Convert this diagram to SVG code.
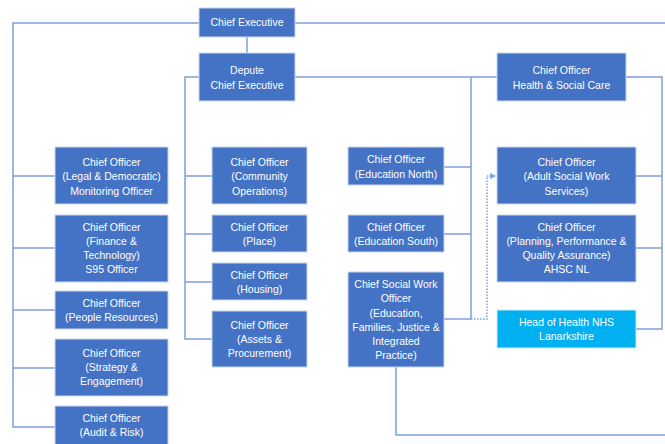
<svg xmlns="http://www.w3.org/2000/svg" width="665" height="444" viewBox="0 0 665 444">
<style>
.b{fill:#4472C4;stroke:#C9D6EE;stroke-width:1}
.c{fill:#00B0F0;stroke:#C9EEFB;stroke-width:1}
text{font-family:"Liberation Sans",Arial,sans-serif;font-size:10.5px;fill:#FFFFFF;text-anchor:middle}
.l{fill:none;stroke:#7F9FDB;stroke-width:1.5}
.d{fill:none;stroke:#7F9FDB;stroke-width:1.5;stroke-dasharray:1.5 1.5}
</style>
<defs>
<marker id="ah" markerWidth="6" markerHeight="6" refX="5" refY="3" orient="auto" markerUnits="userSpaceOnUse">
<path d="M0,0 L6,3 L0,6 Z" fill="#7F9FDB"/>
</marker>
</defs>
<rect width="665" height="444" fill="#FFFFFF"/>
<g id="connectors">
<path class="l" d="M199,23 H13 V427 H55"/>
<path class="l" d="M295,23 H665"/>
<path class="l" d="M13,176 H55 M13,248 H55 M13,310 H55 M13,368 H55"/>
<path class="l" d="M247,37 V53"/>
<path class="l" d="M199,77 H185 V339 H212 M185,176 H212 M185,234 H212 M185,282 H212"/>
<path class="l" d="M295,77 H497"/>
<path class="l" d="M471,77 V319 H444 M444,167 H471 M444,234 H471"/>
<path class="l" d="M626,77 H662 V329 H636 M636,176 H662 M636,248 H662"/>
<path class="l" d="M396,367 V435 H665"/>
<path class="d" d="M471,319 H487 V176 H495" marker-end="url(#ah)"/>
</g>
<g id="chief-executive"><rect class="b" x="199" y="8" width="96" height="29"/><text x="247" y="26">Chief Executive</text></g>
<g id="depute"><rect class="b" x="199" y="53" width="96" height="48"/><text x="247" y="74">Depute</text><text x="247" y="89">Chief Executive</text></g>
<g id="hsc"><rect class="b" x="497" y="53" width="129" height="48"/><text x="561.5" y="74">Chief Officer</text><text x="561.5" y="89">Health &amp; Social Care</text></g>
<g id="legal"><rect class="b" x="55" y="147" width="113" height="57"/><text x="111.5" y="166">Chief Officer</text><text x="111.5" y="180">(Legal &amp; Democratic)</text><text x="111.5" y="194.5">Monitoring Officer</text></g>
<g id="finance"><rect class="b" x="55" y="215" width="113" height="67"/><text x="111.5" y="231">Chief Officer</text><text x="111.5" y="245">(Finance &amp;</text><text x="111.5" y="259">Technology)</text><text x="111.5" y="273">S95 Officer</text></g>
<g id="people"><rect class="b" x="55" y="291" width="113" height="38"/><text x="111.5" y="307">Chief Officer</text><text x="111.5" y="321">(People Resources)</text></g>
<g id="strategy"><rect class="b" x="55" y="339" width="113" height="57"/><text x="111.5" y="357">Chief Officer</text><text x="111.5" y="371">(Strategy &amp;</text><text x="111.5" y="385">Engagement)</text></g>
<g id="audit"><rect class="b" x="55" y="406" width="113" height="40"/><text x="111.5" y="422">Chief Officer</text><text x="111.5" y="436">(Audit &amp; Risk)</text></g>
<g id="community"><rect class="b" x="212" y="147" width="95" height="57"/><text x="259.5" y="166">Chief Officer</text><text x="259.5" y="180">(Community</text><text x="259.5" y="194.5">Operations)</text></g>
<g id="place"><rect class="b" x="212" y="215" width="95" height="37"/><text x="259.5" y="230.5">Chief Officer</text><text x="259.5" y="244.5">(Place)</text></g>
<g id="housing"><rect class="b" x="212" y="263" width="95" height="37"/><text x="259.5" y="278.5">Chief Officer</text><text x="259.5" y="292.5">(Housing)</text></g>
<g id="assets"><rect class="b" x="212" y="311" width="95" height="56"/><text x="259.5" y="329">Chief Officer</text><text x="259.5" y="343">(Assets &amp;</text><text x="259.5" y="357">Procurement)</text></g>
<g id="ed-north"><rect class="b" x="348" y="147" width="96" height="38"/><text x="396" y="163">Chief Officer</text><text x="396" y="177.5">(Education North)</text></g>
<g id="ed-south"><rect class="b" x="348" y="215" width="96" height="37"/><text x="396" y="230.5">Chief Officer</text><text x="396" y="244.5">(Education South)</text></g>
<g id="cswo"><rect class="b" x="348" y="272" width="96" height="95"/><text x="396" y="288">Chief Social Work</text><text x="396" y="302">Officer</text><text x="396" y="316.5">(Education,</text><text x="396" y="330.5">Families, Justice &amp;</text><text x="396" y="344.5">Integrated</text><text x="396" y="359">Practice)</text></g>
<g id="adult-sw"><rect class="b" x="497" y="147" width="139" height="57"/><text x="566.5" y="166">Chief Officer</text><text x="566.5" y="180">(Adult Social Work</text><text x="566.5" y="194.5">Services)</text></g>
<g id="planning"><rect class="b" x="497" y="215" width="139" height="67"/><text x="566.5" y="231">Chief Officer</text><text x="566.5" y="245">(Planning, Performance &amp;</text><text x="566.5" y="259">Quality Assurance)</text><text x="566.5" y="273">AHSC NL</text></g>
<g id="nhs"><rect class="c" x="497" y="310" width="139" height="38"/><text x="566.5" y="326">Head of Health NHS</text><text x="566.5" y="340">Lanarkshire</text></g>
</svg>
